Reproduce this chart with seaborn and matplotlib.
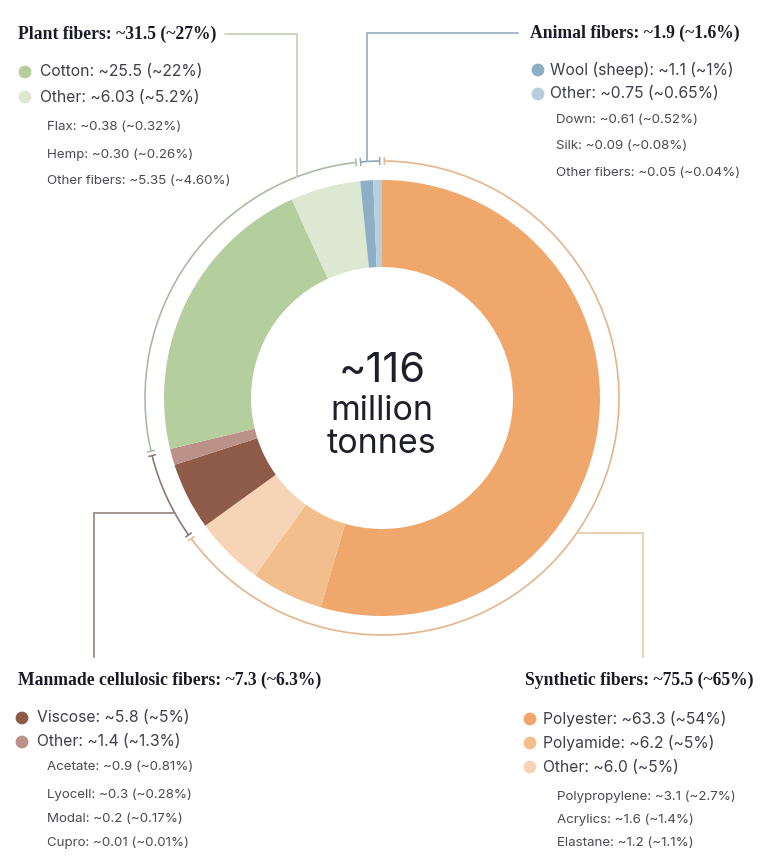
import numpy as np
import matplotlib
matplotlib.use("Agg")
import matplotlib.pyplot as plt
from matplotlib.patches import Arc
import seaborn as sns

# ---- data (million tonnes, share of total) ----
slice_names = ["Polyester", "Polyamide", "Other", "Viscose", "Other",
               "Cotton", "Other", "Wool (sheep)", "Other"]
slice_values = [63.3, 6.2, 6.0, 5.8, 1.4, 25.5, 6.03, 1.1, 0.75]
slice_shares = ["54%", "5%", "5%", "5%", "1.3%", "22%", "5.2%", "1%", "0.65%"]
slice_group = [0, 0, 0, 1, 1, 2, 2, 3, 3]

categories = ["Synthetic fibers", "Manmade cellulosic fibers", "Plant fibers", "Animal fibers"]
category_totals = [75.5, 7.3, 31.5, 1.9]
category_shares = ["65%", "6.3%", "27%", "1.6%"]

synthetic_other_names = ["Polypropylene", "Acrylics", "Elastane"]
synthetic_other_values = ["3.1", "1.6", "1.2"]
synthetic_other_shares = ["2.7%", "1.4%", "1.1%"]

cellulosic_other_names = ["Acetate", "Lyocell", "Modal", "Cupro"]
cellulosic_other_values = ["0.9", "0.3", "0.2", "0.01"]
cellulosic_other_shares = ["0.81%", "0.28%", "0.17%", "0.01%"]

plant_other_names = ["Flax", "Hemp", "Other fibers"]
plant_other_values = ["0.38", "0.30", "5.35"]
plant_other_shares = ["0.32%", "0.26%", "4.60%"]

animal_other_names = ["Down", "Silk", "Other fibers"]
animal_other_values = ["0.61", "0.09", "0.05"]
animal_other_shares = ["0.52%", "0.08%", "0.04%"]

total_label = "~116"

# ---- style ----
slice_colors = ["#EFA76B", "#F2BE8C", "#F7D4B6", "#8E5B48", "#BC9187",
                "#B4CE9D", "#DCE8D1", "#8DAFC5", "#B7CEDD"]
ring_colors = ["#E6B48C", "#8E7874", "#A9BCA2", "#8FA6B8"]
link_colors = ["#E8CBAE", "#9C8A88", "#C3D5B8", "#9EB2C3"]

sns.set_theme(style="white")
plt.rcParams["font.family"] = ["Inter", "DejaVu Sans"]

W, H = 765, 865
fig = plt.figure(figsize=(W / 100, H / 100), dpi=100)
ax = fig.add_axes([0, 0, 1, 1])


def Y(y):
    # layout is written top-down in pixels
    return H - y


cx, cy = 382, 398
R_out, R_in, R_ring = 218, 131, 237

ax.pie(slice_values, colors=slice_colors, startangle=90, counterclock=False,
       center=(cx, Y(cy)), radius=R_out,
       wedgeprops=dict(width=R_out - R_in, linewidth=0))

# outer ring split by category
total = sum(slice_values)
k = 360.0 / total
bounds = np.cumsum([0] + [sum(v for v, g in zip(slice_values, slice_group) if g == i)
                          for i in range(len(categories))])
gap = 1.1
for i in range(len(categories)):
    a_start = 90 - bounds[i] * k - gap / 2
    a_end = 90 - bounds[i + 1] * k + gap / 2
    ax.add_patch(Arc((cx, Y(cy)), 2 * R_ring, 2 * R_ring, theta1=a_end, theta2=a_start,
                     color=ring_colors[i], lw=1.2))
    for a in (a_start, a_end):
        t = np.deg2rad(a)
        r0, r1 = R_ring - 4, R_ring + 4
        ax.plot([cx + r0 * np.cos(t), cx + r1 * np.cos(t)],
                [Y(cy) + r0 * np.sin(t), Y(cy) + r1 * np.sin(t)],
                color=ring_colors[i], lw=1.1, solid_capstyle="butt")


def ring_x(y, side):
    dy = y - cy
    return cx + side * np.sqrt(R_ring ** 2 - dy ** 2)


def ring_y_top(x):
    dx = x - cx
    return cy - np.sqrt(R_ring ** 2 - dx ** 2)


# connector lines from the ring to each heading
links = [
    [(ring_x(533, 1), 533), (643, 533), (643, 657)],
    [(ring_x(513, -1), 513), (94, 513), (94, 657)],
    [(297, ring_y_top(297)), (297, 34), (225, 34)],
    [(367, ring_y_top(367)), (367, 33), (518, 33)],
]
for pts, col in zip(links, link_colors):
    xs = [p[0] for p in pts]
    ys = [Y(p[1]) for p in pts]
    ax.plot(xs, ys, color=col, lw=1.3, solid_joinstyle="miter")

# centre label
centre_font = dict(ha="center", va="baseline", color="#1f1f2a",
                   family=["Inter", "DejaVu Sans"])
ax.text(cx, Y(382), total_label, fontsize=30, **centre_font)
ax.text(cx, Y(420), "million", fontsize=24.5, **centre_font)
ax.text(cx, Y(453), "tonnes", fontsize=24.5, **centre_font)

# ---- legend blocks ----
heading_font = dict(family=["Liberation Serif", "DejaVu Serif"], fontweight="bold",
                    fontsize=12.7, color="#1b1b28")
item_font = dict(fontsize=11.3, color="#3f3f4c")
sub_font = dict(fontsize=9.6, color="#4a4a55")

blocks = [
    # heading xy, dot x, text x, item ys, sub x, sub ys
    dict(cat=0, head=(525, 680), dot_x=530, txt_x=543, item_y=[719, 743, 767],
         sub_x=557, sub_y=[797, 820, 843],
         subs=(synthetic_other_names, synthetic_other_values, synthetic_other_shares)),
    dict(cat=1, head=(18, 680), dot_x=22, txt_x=37, item_y=[718, 742],
         sub_x=47, sub_y=[767, 795, 819, 843],
         subs=(cellulosic_other_names, cellulosic_other_values, cellulosic_other_shares)),
    dict(cat=2, head=(18, 34), dot_x=25, txt_x=40, item_y=[72, 97],
         sub_x=47, sub_y=[127, 155, 181],
         subs=(plant_other_names, plant_other_values, plant_other_shares)),
    dict(cat=3, head=(530, 33), dot_x=538, txt_x=550, item_y=[70, 94],
         sub_x=556, sub_y=[120, 146, 173],
         subs=(animal_other_names, animal_other_values, animal_other_shares)),
]

dot_x, dot_y, dot_c = [], [], []
for b in blocks:
    c = b["cat"]
    hx, hy = b["head"]
    ax.text(hx, Y(hy), f"{categories[c]}: ~{category_totals[c]} (~{category_shares[c]})",
            ha="left", va="center", **heading_font)
    idx = [i for i, g in enumerate(slice_group) if g == c]
    for j, i in enumerate(idx):
        yy = b["item_y"][j]
        dot_x.append(b["dot_x"])
        dot_y.append(Y(yy))
        dot_c.append(slice_colors[i])
        ax.text(b["txt_x"], Y(yy), f"{slice_names[i]}: ~{slice_values[i]} (~{slice_shares[i]})",
                ha="left", va="center", **item_font)
    names, vals, shares = b["subs"]
    for n, v, s, yy in zip(names, vals, shares, b["sub_y"]):
        ax.text(b["sub_x"], Y(yy), f"{n}: ~{v} (~{s})", ha="left", va="center", **sub_font)

sns.scatterplot(x=dot_x, y=dot_y, hue=list(range(len(dot_x))), palette=dot_c,
                s=85, linewidth=0, legend=False, ax=ax)

ax.set_xlim(0, W)
ax.set_ylim(0, H)
ax.set_aspect("equal")
ax.axis("off")
fig.savefig("out.png", dpi=100, facecolor="white")
